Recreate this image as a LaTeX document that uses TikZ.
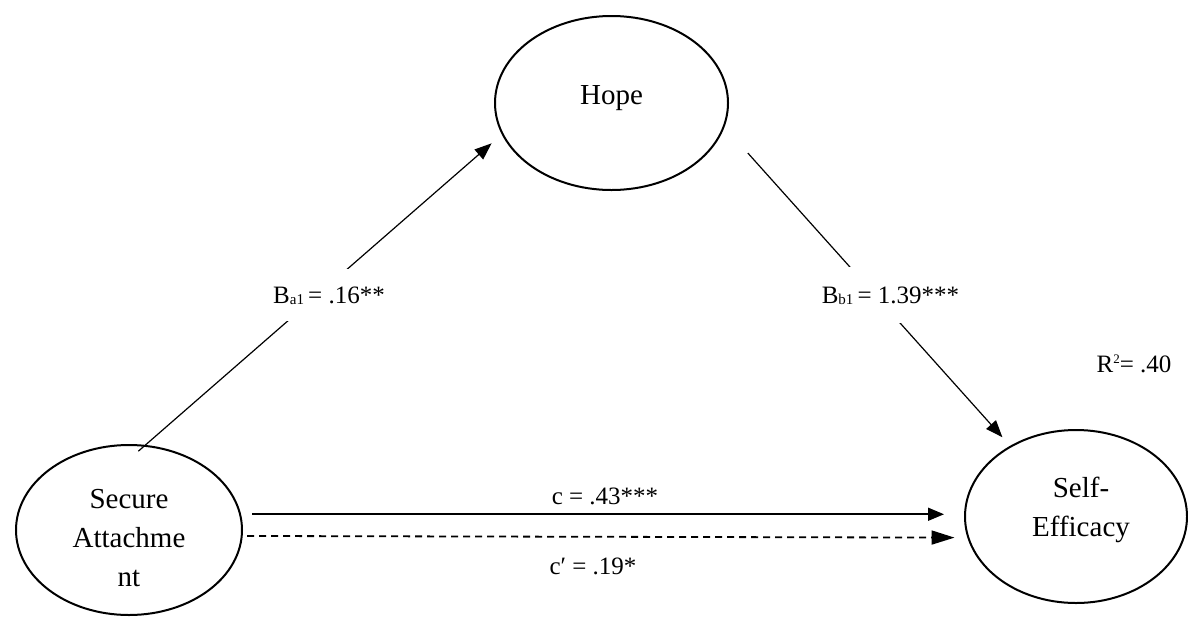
\documentclass[tikz,border=0pt]{standalone}
\usepackage{fontspec}
\setmainfont{Liberation Serif}
\usetikzlibrary{arrows.meta,shapes.geometric}
\newcommand{\myvarfont}{\fontsize{29}{39}\selectfont}
\newcommand{\mylblfont}{\fontsize{25}{30}\selectfont}
\newcommand{\lowsub}[1]{\raisebox{-1pt}{\fontsize{15}{15}\selectfont #1}}
\newcommand{\highsup}[1]{\raisebox{9pt}{\fontsize{13}{13}\selectfont #1}}
\begin{document}
\begin{tikzpicture}[x=1pt,y=-1pt,
  var/.style={ellipse, draw, line width=2pt, inner sep=0pt, align=center, font=\myvarfont},
  conn/.style={line width=1.2pt, -{Triangle[length=17pt,width=13pt]}},
  direct/.style={line width=1.6pt, -{Triangle[length=16pt,width=13pt]}},
  indirect/.style={line width=1.8pt, dash pattern=on 7pt off 5pt, -{Triangle[length=23pt,width=14pt]}},
  lbl/.style={font=\mylblfont, inner sep=0pt, anchor=base},
  gaplbl/.style={lbl, fill=white, inner xsep=2pt}
]
\path[fill=white, use as bounding box] (0,0) rectangle (1188,619);

% variables
\node[var, minimum width=233pt, minimum height=174pt] (hope) at (611.5,103)
  {Hope\rule[-15pt]{0pt}{0pt}};
\node[var, minimum width=226pt, minimum height=170pt] (sec) at (129,530)
  {\rule{0pt}{35pt}Secure\\Attachme\\nt};
\node[var, minimum width=222pt, minimum height=173pt] (eff) at (1076,516.5)
  {\hspace*{10pt}Self-\\\hspace*{10pt}Efficacy\rule[-20pt]{0pt}{0pt}};

% paths
\draw[conn, shorten <=-9.5pt, shorten >=13.5pt] (sec.79) -- (hope.196);
\draw[conn, shorten <=35pt, shorten >=11.5pt] (hope.-12) -- (eff.133);
\draw[direct, shorten <=11pt, shorten >=20pt] (sec.8.73) -- (sec.8.73 -| eff.west);
\draw[indirect, shorten <=4.5pt, shorten >=12.8pt] (sec.-3.56) -- (eff.191.9);

% labels
\node[gaplbl, inner ysep=17pt] (la) at (329,303) {B\lowsub{a1}\,= .16**};
\node[gaplbl, inner ysep=19pt] (lb) at (890.5,303) {B\lowsub{b1}\,= 1.39***};
\node[lbl] (lc) at (605,504) {c = .43***};
\node[lbl] (lcp) at (593,574) {c′ = .19*};
\node[lbl] (lr) at (1134,372) {R\highsup{2}= .40};
\end{tikzpicture}
\end{document}
